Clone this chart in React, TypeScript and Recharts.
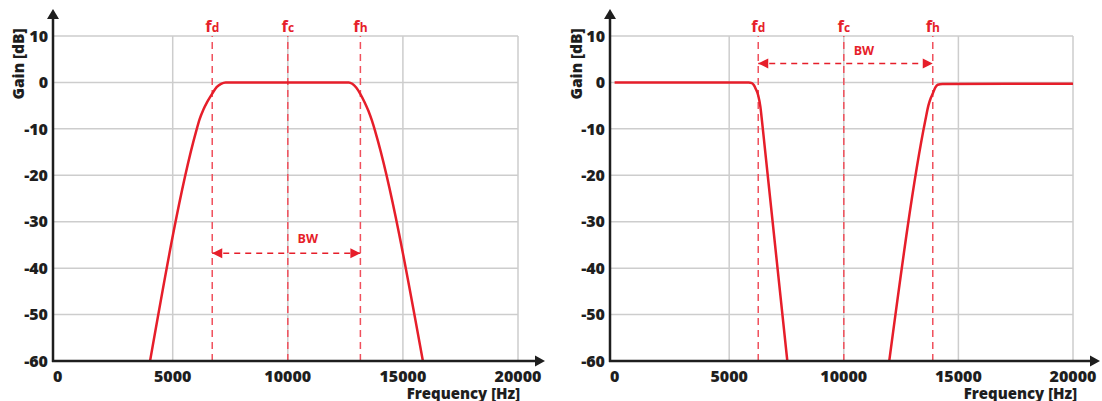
import React from 'react';
import { LineChart, Line, XAxis, YAxis, CartesianGrid, ReferenceLine, ReferenceDot } from 'recharts';

// ---- data ----
const xTicks = [0, 5000, 10000, 15000, 20000];
const yTicks = [-60, -50, -40, -30, -20, -10, 0, 10];
const gridFreqs = [5000, 10000, 15000, 20000];

// band-pass response (left)
const bandPassFreq = [4016, 6020, 6170, 6330, 6500, 6717, 6908, 7100, 7300, 12650, 12800, 12970, 13153, 13330, 13500, 13660, 13800, 15868];
const bandPassGain = [-60, -10.5, -7.9, -5.9, -4.2, -2.4, -1.0, -0.3, 0, 0, -0.3, -1.1, -2.5, -4.2, -6.1, -8.3, -10.6, -60];

// band-stop response (right); null = line absent
const bandStopFreq = [0, 5850, 5990, 6080, 6160, 6267, 6360, 6440, 7536, 9800, 11983, 13560, 13690, 13800, 13882, 13990, 14100, 14300, 20000];
const bandStopGain: (number | null)[] = [0, 0, -0.15, -0.6, -1.4, -2.8, -5.2, -8.7, -60, null, -60, -8.1, -5.0, -3.3, -2.4, -1.1, -0.5, -0.32, -0.3];

const markerSubs = ['d', 'c', 'h'];
const bandPassMarkerFreq = [6717, 10000, 13153];
const bandStopMarkerFreq = [6267, 10000, 13882];

const bandPassBw = { gain: -36.8, labelFreq: 10870, labelGain: -34.5 };
const bandStopBw = { gain: 4.1, labelFreq: 10880, labelGain: 5.9 };

const RED = '#e61e2a';
const RED_DASH = '#f0505c';
const FONT = "'Open Sans', 'Noto Sans', sans-serif";
const INK = '#1e1e1e';
const TICK_STYLE = { fill: INK, fontFamily: FONT, fontWeight: 800, fontSize: 16 };

const makeData = (f: number[], g: (number | null)[]) => f.map((x, i) => ({ f: x, gain: g[i] }));

const MarkerLabel = (props: any) => {
  const vb = props.viewBox || {};
  return (
    <text x={vb.x} y={32} textAnchor="middle" fill={RED} fontFamily={FONT} fontWeight={700}>
      <tspan fontSize={16.5}>f</tspan>
      <tspan fontSize={12}>{props.sub}</tspan>
    </text>
  );
};

const LeftHead = (p: any) => (
  <polygon points={`${p.cx},${p.cy} ${p.cx + 10},${p.cy - 5} ${p.cx + 10},${p.cy + 5}`} fill={RED} />
);
const RightHead = (p: any) => (
  <polygon points={`${p.cx},${p.cy} ${p.cx - 10},${p.cy - 5} ${p.cx - 10},${p.cy + 5}`} fill={RED} />
);
const BwText = (p: any) => (
  <text x={p.cx} y={p.cy} textAnchor="middle" fill={RED} fontFamily={FONT} fontWeight={700} fontSize={12.5}>BW</text>
);

type PanelProps = {
  data: { f: number; gain: number | null }[];
  markers: number[];
  bw: { gain: number; labelFreq: number; labelGain: number };
  yAxisWidth: number;
  rightMargin: number;
};

const Panel = ({ data, markers, bw, yAxisWidth, rightMargin }: PanelProps) => (
  <LineChart width={551} height={401} data={data} margin={{ top: 36, right: rightMargin, bottom: 10, left: 0 }}>
    <CartesianGrid stroke="#cdcdcd" strokeWidth={1.5} verticalValues={gridFreqs} horizontalValues={yTicks} />
    <XAxis
      dataKey="f"
      type="number"
      domain={[-200, 20000]}
      ticks={xTicks}
      allowDataOverflow
      axisLine={false}
      tickLine={false}
      tickSize={0}
      tickMargin={10}
      height={30}
      interval={0}
      tick={TICK_STYLE}
    />
    <YAxis
      type="number"
      domain={[-60, 10]}
      ticks={yTicks}
      allowDataOverflow
      axisLine={false}
      tickLine={false}
      tickSize={0}
      tickMargin={5}
      width={yAxisWidth}
      interval={0}
      tick={TICK_STYLE}
    />
    {markers.map((m, i) => (
      <ReferenceLine
        key={`m${i}`}
        x={m}
        stroke={RED_DASH}
        strokeWidth={1.5}
        strokeDasharray="7 5"
        label={(p: any) => <MarkerLabel viewBox={p.viewBox} sub={markerSubs[i]} />}
      />
    ))}
    <ReferenceLine
      segment={[{ x: markers[0], y: bw.gain }, { x: markers[2], y: bw.gain }]}
      stroke={RED}
      strokeWidth={1.5}
      strokeDasharray="6 5"
    />
    <ReferenceDot x={markers[0]} y={bw.gain} r={0} shape={LeftHead} />
    <ReferenceDot x={markers[2]} y={bw.gain} r={0} shape={RightHead} />
    <ReferenceDot x={bw.labelFreq} y={bw.labelGain} r={0} shape={BwText} />
    <Line
      dataKey="gain"
      type="monotone"
      stroke={RED}
      strokeWidth={2.5}
      dot={false}
      activeDot={false}
      isAnimationActive={false}
      connectNulls={false}
    />
  </LineChart>
);

const Axes = ({ ox, oy, ex, top, titleX, freqRight }: { ox: number; oy: number; ex: number; top: number; titleX: number; freqRight: number }) => (
  <g>
    <line x1={ox} y1={oy + 1} x2={ox} y2={top + 8} stroke={INK} strokeWidth={2.5} />
    <polygon points={`${ox},${top} ${ox - 6},${top + 10} ${ox + 6},${top + 10}`} fill={INK} />
    <line x1={ox - 1} y1={oy} x2={ex - 8} y2={oy} stroke={INK} strokeWidth={2.5} />
    <polygon points={`${ex},${oy} ${ex - 10},${oy - 5.5} ${ex - 10},${oy + 5.5}`} fill={INK} />
    <text
      x={titleX}
      y={64}
      transform={`rotate(-90 ${titleX} 64)`}
      textAnchor="middle"
      fill={INK}
      fontFamily={FONT}
      fontWeight={800}
      fontSize={15.5}
    >
      Gain [dB]
    </text>
    <text x={freqRight} y={398.5} textAnchor="end" fill={INK} fontFamily={FONT} fontWeight={800} fontSize={15}>
      Frequency [Hz]
    </text>
  </g>
);

export default function App() {
  const bp = makeData(bandPassFreq, bandPassGain);
  const bs = makeData(bandStopFreq, bandStopGain);
  return (
    <div style={{ position: 'absolute', left: 0, top: 0, width: 1102, height: 401, background: '#fff' }}>
      <div style={{ position: 'absolute', left: 0, top: 0 }}>
        <Panel data={bp} markers={bandPassMarkerFreq} bw={bandPassBw} yAxisWidth={53} rightMargin={33} />
      </div>
      <div style={{ position: 'absolute', left: 551, top: 0 }}>
        <Panel data={bs} markers={bandStopMarkerFreq} bw={bandStopBw} yAxisWidth={59} rightMargin={29} />
      </div>
      <svg width={1102} height={401} style={{ position: 'absolute', left: 0, top: 0, pointerEvents: 'none' }}>
        <Axes ox={53} oy={361} ex={545} top={9} titleX={24} freqRight={520} />
        <Axes ox={610} oy={361} ex={1100} top={9} titleX={582} freqRight={1077} />
      </svg>
    </div>
  );
}
